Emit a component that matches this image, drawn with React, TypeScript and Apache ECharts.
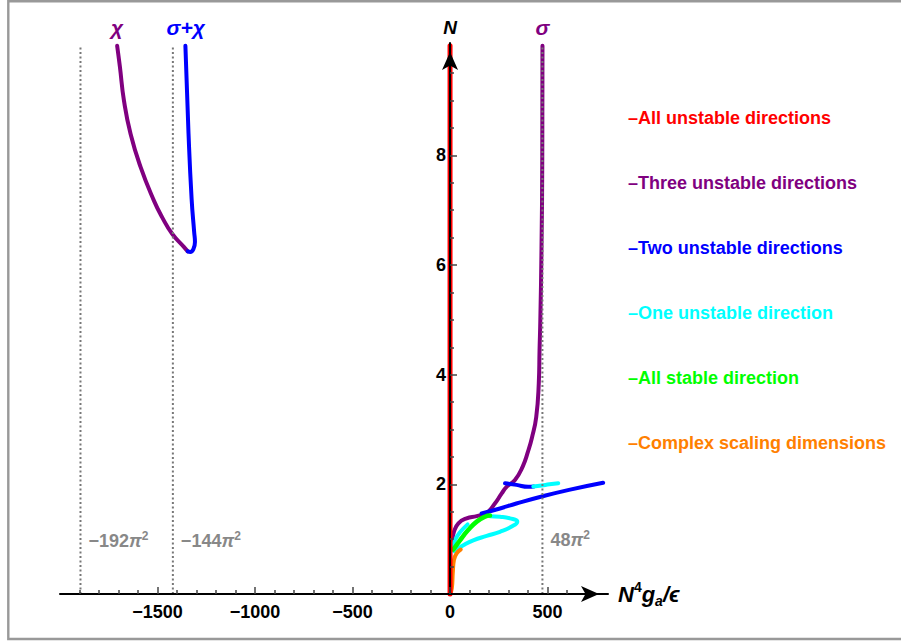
import React, { useEffect, useRef } from 'react';
import * as echarts from 'echarts';

const FONT = '"Liberation Sans", Arial, Helvetica, sans-serif';

// ---- axis ticks / labels ----
const xMajor = [-1500, -1000, -500, 0, 500];
const xMinor = [-1900, -1800, -1700, -1600, -1400, -1300, -1200, -1100, -900, -800, -700, -600, -400, -300, -200, -100, 100, 200, 300, 400, 600, 700];
const yMajor = [2, 4, 6, 8];
const yMinor = [0.5, 1, 1.5, 2.5, 3, 3.5, 4.5, 5, 5.5, 6.5, 7, 7.5, 8.5, 9, 9.5];

// ---- legend ----
const legendNames = [
  'All unstable directions',
  'Three unstable directions',
  'Two unstable directions',
  'One unstable direction',
  'All stable direction',
  'Complex scaling dimensions',
];
const legendColors = ['#ff0000', '#800080', '#0000ff', '#00ffff', '#00ff00', '#ff8000'];

// ---- curves: x = N^4 g_a / eps, y = N ----
const redX = [0, 0];
const redN = [0, 10];

const chiX = [-1707, -1693, -1672, -1638, -1587, -1519, -1476, -1425, -1365, -1345];
const chiN = [10.0, 9.62, 9.0, 8.39, 7.79, 7.18, 6.87, 6.57, 6.33, 6.25];

const sigmaChiX = [-1357, -1341, -1325, -1312, -1308, -1316, -1332, -1345];
const sigmaChiN = [10.0, 8.4, 7.2, 6.6, 6.42, 6.29, 6.24, 6.25];

const sigmaX = [474, 473, 469, 463, 459, 455, 442, 420, 400, 372, 333, 290, 265, 230, 188, 137, 85, 43, 20, 12];
const sigmaN = [10, 8, 6.3, 5.0, 4.45, 3.84, 3.23, 2.85, 2.6, 2.32, 2.08, 1.955, 1.835, 1.65, 1.48, 1.42, 1.38, 1.29, 1.135, 0.98];

const blueSmallX = [282, 341, 401, 430];
const blueSmallN = [2.02, 1.99, 1.955, 1.96];

const blueLargeX = [162, 256, 340, 461, 610, 785];
const blueLargeN = [1.47, 1.56, 1.65, 1.77, 1.9, 2.03];

const cyanSmallX = [427, 470, 510, 555];
const cyanSmallN = [1.96, 1.98, 2.0, 2.02];

const cyanLoopX = [205, 256, 307, 345, 316, 256, 188, 119, 68, 34, 22];
const cyanLoopN = [1.42, 1.41, 1.38, 1.32, 1.23, 1.135, 1.06, 0.98, 0.89, 0.81, 0.78];

const cyanInnerX = [12, 25, 50, 90];
const cyanInnerN = [0.85, 0.98, 1.12, 1.27];

const greenX = [17, 51, 94, 137, 179, 205];
const greenN = [0.81, 0.98, 1.17, 1.32, 1.41, 1.43];

const orangeX = [0, 9, 14, 20, 34, 55];
const orangeN = [0, 0.1, 0.38, 0.62, 0.74, 0.81];

// ---- reference lines ----
const asymptoteX = [-1894.96, -1421.22, 473.74];
const asymptoteText = ['\u2212192', '\u2212144', '48'];
const asymptoteLabelN = [0.97, 0.97, 0.98];

// ---- curve name labels on top ----
const topLabelText = ['\u03c7', '\u03c3+\u03c7', '\u03c3'];
const topLabelX = [-1707, -1355, 474];
const topLabelN = [10.1, 10.1, 10.1];
const topLabelColor = ['#800080', '#0000ff', '#800080'];

const X_MIN = -2000;
const X_MAX = 810;
const GRID_LEFT = 60;
const GRID_RIGHT = 293;
const PLOT_W = 901 - GRID_LEFT - GRID_RIGHT;
// y axis sits on x = 0
const Y_AXIS_OFFSET = -((0 - X_MIN) / (X_MAX - X_MIN)) * PLOT_W;

const pairs = (xs: number[], ys: number[]) => xs.map((x, i) => [x, ys[i]]);

const curve = (name: string, color: string, xs: number[], ys: number[], width = 4) => ({
  type: 'line',
  name,
  data: pairs(xs, ys),
  showSymbol: false,
  symbol: 'none',
  smooth: 0.5,
  clip: false,
  silent: true,
  itemStyle: { color },
  lineStyle: { color, width, cap: 'round', join: 'round' },
});

const minus = (v: number) => String(v).replace('-', '\u2212');

export default function App() {
  const ref = useRef<HTMLDivElement>(null);
  useEffect(() => {
    if (!ref.current) return;
    const chart = echarts.init(ref.current, null, { renderer: 'svg' });
    const tickStyle = { color: '#444', width: 1.5 };
    const option: any = {
      animation: false,
      backgroundColor: '#fff',
      textStyle: { fontFamily: FONT },
      grid: { left: GRID_LEFT, right: GRID_RIGHT, top: 43, bottom: 49 },
      legend: {
        orient: 'vertical',
        left: 618,
        top: 104,
        itemGap: 47,
        icon: 'none',
        itemWidth: 0,
        itemHeight: 18,
        selectedMode: false,
        formatter: (n: string) => '\u2013' + n,
        textStyle: { fontFamily: FONT, fontWeight: 'bold', fontSize: 18 },
        data: legendNames.map((n, i) => ({ name: n, textStyle: { color: legendColors[i] } })),
      },
      xAxis: [
        {
          type: 'value', min: X_MIN, max: X_MAX, position: 'bottom', z: 10,
          axisLine: { onZero: false, lineStyle: { color: '#000', width: 2 }, symbol: ['none', 'arrow'], symbolSize: [12, 18], symbolOffset: [0, -9] },
          axisTick: { show: true, inside: true, length: 7, lineStyle: tickStyle, customValues: xMajor },
          axisLabel: { customValues: xMajor, formatter: minus, margin: 9, fontSize: 18, fontWeight: 'bold', color: '#000', fontFamily: FONT },
          splitLine: { show: false },
          name: '{n|N}{sup|4}{n|g}{sub|a}{n|/\u03f5}',
          nameLocation: 'end',
          nameGap: 10,
          nameTextStyle: {
            rich: {
              n: { fontSize: 22, fontWeight: 'bold', fontStyle: 'italic', color: '#000', fontFamily: FONT, lineHeight: 28 },
              sup: { fontSize: 14, fontWeight: 'bold', color: '#000', fontFamily: FONT, lineHeight: 16, verticalAlign: 'top' },
              sub: { fontSize: 14, fontWeight: 'bold', fontStyle: 'italic', color: '#000', fontFamily: FONT, lineHeight: 14, verticalAlign: 'bottom' },
            },
          },
        },
        {
          type: 'value', min: X_MIN, max: X_MAX, position: 'bottom', z: 10,
          axisLine: { show: false, onZero: false },
          axisTick: { show: true, inside: true, length: 4, lineStyle: tickStyle, customValues: xMinor },
          axisLabel: { show: false },
          splitLine: { show: false },
        },
      ],
      yAxis: [
        {
          type: 'value', min: 0, max: 10.05, position: 'left', offset: Y_AXIS_OFFSET, z: 10,
          axisLine: { onZero: false, lineStyle: { color: '#000', width: 2 }, symbol: ['none', 'arrow'], symbolSize: [12, 18], symbolOffset: [0, -9] },
          axisTick: { show: true, inside: true, length: 7, lineStyle: tickStyle, customValues: yMajor },
          axisLabel: { customValues: yMajor, margin: 4, fontSize: 18, fontWeight: 'bold', color: '#000', fontFamily: FONT },
          splitLine: { show: false },
          name: 'N',
          nameLocation: 'end',
          nameGap: 6,
          nameTextStyle: { fontSize: 19, fontWeight: 'bold', fontStyle: 'italic', color: '#000', fontFamily: FONT },
        },
        {
          type: 'value', min: 0, max: 10.05, position: 'left', offset: Y_AXIS_OFFSET, z: 10,
          axisLine: { show: false, onZero: false },
          axisTick: { show: true, inside: true, length: 4, lineStyle: tickStyle, customValues: yMinor },
          axisLabel: { show: false },
          splitLine: { show: false },
        },
      ],
      series: [
        curve(legendNames[1], legendColors[1], chiX, chiN),
        curve(legendNames[2], legendColors[2], sigmaChiX, sigmaChiN),
        curve(legendNames[1], legendColors[1], sigmaX, sigmaN),
        curve(legendNames[2], legendColors[2], blueLargeX, blueLargeN),
        curve(legendNames[3], legendColors[3], cyanLoopX, cyanLoopN),
        curve(legendNames[3], legendColors[3], cyanInnerX, cyanInnerN),
        curve(legendNames[2], legendColors[2], blueSmallX, blueSmallN),
        curve(legendNames[3], legendColors[3], cyanSmallX, cyanSmallN),
        curve(legendNames[4], legendColors[4], greenX, greenN, 4.5),
        curve(legendNames[5], legendColors[5], orangeX, orangeN),
        curve(legendNames[0], legendColors[0], redX, redN, 5),
        ...asymptoteX.map((x) => ({
          type: 'line',
          data: [[x, 0], [x, 10]],
          showSymbol: false,
          symbol: 'none',
          silent: true,
          z: 6,
          lineStyle: { color: '#777', width: 2, type: [2, 2.5] },
        })),
        {
          type: 'scatter',
          symbolSize: 0,
          clip: false,
          silent: true,
          z: 7,
          itemStyle: { opacity: 1 },
          data: asymptoteX.map((x, i) => ({
            value: [x, asymptoteLabelN[i]],
            label: { formatter: '{t|' + asymptoteText[i] + '}{p|\u03c0}{s|2}' },
          })),
          label: {
            show: true,
            position: 'right',
            distance: 8,
            opacity: 1,
            rich: {
              t: { fontSize: 18, fontWeight: 'bold', color: '#888', fontFamily: FONT, lineHeight: 22 },
              p: { fontSize: 18, fontWeight: 'bold', fontStyle: 'italic', color: '#888', fontFamily: FONT, lineHeight: 22 },
              s: { fontSize: 12, fontWeight: 'bold', color: '#888', fontFamily: FONT, lineHeight: 13, verticalAlign: 'top' },
            },
          },
        },
        {
          type: 'scatter',
          symbolSize: 0,
          clip: false,
          silent: true,
          z: 7,
          itemStyle: { opacity: 1 },
          data: topLabelX.map((x, i) => ({
            value: [x, topLabelN[i]],
            itemStyle: { color: topLabelColor[i], opacity: 1 },
            label: { formatter: topLabelText[i], color: topLabelColor[i], opacity: 1 },
          })),
          label: {
            show: true, position: 'top', distance: 2, fontSize: 21, fontWeight: 'bold', fontStyle: 'italic', fontFamily: FONT,
            textBorderWidth: 0, opacity: 1,
          },
        },
      ],
      graphic: [
        {
          type: 'rect',
          silent: true,
          z: 100,
          shape: { x: 8.3, y: 1.3, width: 930, height: 637.7 },
          style: { fill: 'none', stroke: '#999', lineWidth: 2.4 },
        },
      ],
    };
    chart.setOption(option);
    return () => chart.dispose();
  }, []);
  return <div ref={ref} style={{ position: 'fixed', left: 0, top: 0, width: 901, height: 643 }} />;
}
